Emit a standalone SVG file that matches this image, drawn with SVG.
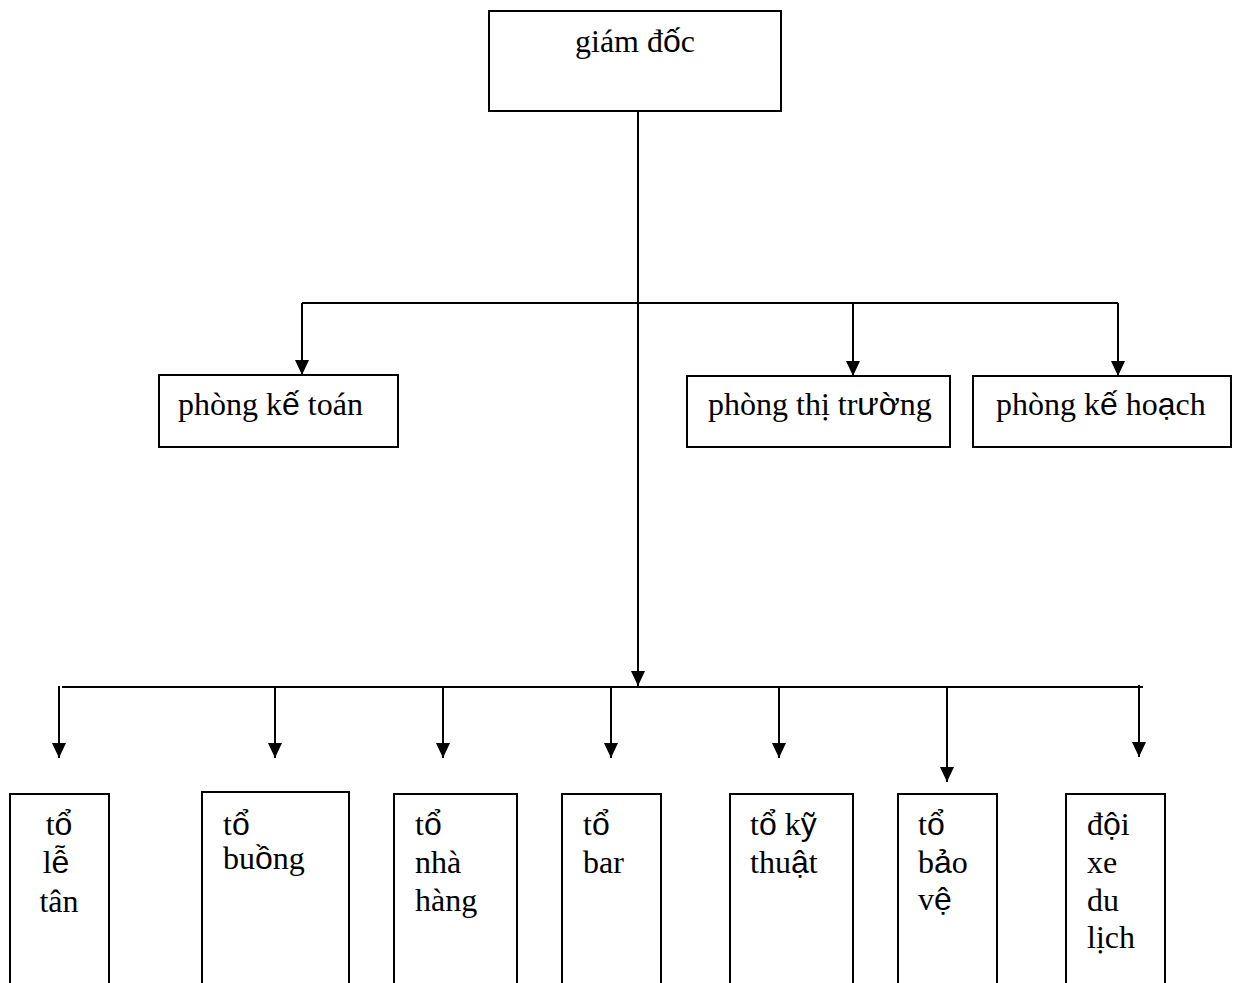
<svg xmlns="http://www.w3.org/2000/svg" width="1233" height="983" viewBox="0 0 1233 983">
<style>
.box{fill:#fff;stroke:#000;stroke-width:2}
.t{font-family:"Liberation Serif","Times New Roman",serif;font-size:32px;fill:#000}
.s{font-family:"Liberation Sans",Arial,sans-serif}
.ln{stroke:#000;stroke-width:2;fill:none}
</style>
<defs>
<marker id="ah" markerUnits="userSpaceOnUse" markerWidth="16" markerHeight="16" viewBox="0 0 16 16" refX="8" refY="15" orient="auto-start-reverse">
<path d="M1,0 L15,0 L8,15 Z" fill="#000" transform="rotate(-90 8 8)"/>
</marker>
<marker id="a" markerUnits="userSpaceOnUse" markerWidth="16" markerHeight="16" viewBox="0 0 16 16" refX="8" refY="15" orient="0">
<path d="M1,0 L15,0 L8,15 Z" fill="#000"/>
</marker>
</defs>
<rect width="1233" height="983" fill="#fff"/>
<g id="connectors">
<line class="ln" x1="638" y1="111" x2="638" y2="686" marker-end="url(#a)"/>
<line class="ln" x1="302" y1="303" x2="1118" y2="303"/>
<line class="ln" x1="302" y1="303" x2="302" y2="375" marker-end="url(#a)"/>
<line class="ln" x1="853" y1="303" x2="853" y2="376" marker-end="url(#a)"/>
<line class="ln" x1="1118" y1="303" x2="1118" y2="376" marker-end="url(#a)"/>
<line class="ln" x1="62" y1="687" x2="1143" y2="687"/>
<line class="ln" x1="59" y1="686" x2="59" y2="758" marker-end="url(#a)"/>
<line class="ln" x1="275" y1="687" x2="275" y2="758" marker-end="url(#a)"/>
<line class="ln" x1="443" y1="687" x2="443" y2="758" marker-end="url(#a)"/>
<line class="ln" x1="611" y1="687" x2="611" y2="758" marker-end="url(#a)"/>
<line class="ln" x1="779" y1="687" x2="779" y2="758" marker-end="url(#a)"/>
<line class="ln" x1="947" y1="687" x2="947" y2="782" marker-end="url(#a)"/>
<line class="ln" x1="1139" y1="685" x2="1139" y2="757" marker-end="url(#a)"/>
</g>
<g id="giam-doc">
<rect class="box" x="489" y="11" width="292" height="100"/>
<text class="t" x="635" y="52" text-anchor="middle">giám đ<tspan class="s">ố</tspan>c</text>
</g>
<g id="phong-ke-toan">
<rect class="box" x="159" y="375" width="239" height="72"/>
<text class="t" x="178" y="415">phòng k<tspan class="s">ế</tspan> toán</text>
</g>
<g id="phong-thi-truong">
<rect class="box" x="687" y="376" width="263" height="71"/>
<text class="t" x="708" y="415">phòng thị tr<tspan class="s">ườ</tspan>ng</text>
</g>
<g id="phong-ke-hoach">
<rect class="box" x="973" y="376" width="258" height="71"/>
<text class="t" x="996" y="415">phòng k<tspan class="s">ế</tspan> ho<tspan class="s">ạ</tspan>ch</text>
</g>
<g id="to-le-tan">
<rect class="box" x="10" y="794" width="99" height="200"/>
<text class="t" text-anchor="middle"><tspan x="59" y="835">t<tspan class="s">ổ</tspan></tspan><tspan x="56" y="873">l<tspan class="s">ễ</tspan></tspan><tspan x="59" y="912">tân</tspan></text>
</g>
<g id="to-buong">
<rect class="box" x="202" y="792" width="147" height="200"/>
<text class="t"><tspan x="223" y="835">t<tspan class="s">ổ</tspan></tspan><tspan x="223" y="869">bu<tspan class="s">ồ</tspan>ng</tspan></text>
</g>
<g id="to-nha-hang">
<rect class="box" x="394" y="794" width="123" height="200"/>
<text class="t"><tspan x="415" y="835">t<tspan class="s">ổ</tspan></tspan><tspan x="415" y="873">nhà</tspan><tspan x="415" y="911">hàng</tspan></text>
</g>
<g id="to-bar">
<rect class="box" x="562" y="794" width="99" height="200"/>
<text class="t"><tspan x="583" y="835">t<tspan class="s">ổ</tspan></tspan><tspan x="583" y="873">bar</tspan></text>
</g>
<g id="to-ky-thuat">
<rect class="box" x="730" y="794" width="123" height="200"/>
<text class="t"><tspan x="750" y="835">t<tspan class="s">ổ</tspan> k<tspan class="s">ỹ</tspan></tspan><tspan x="750" y="873">thu<tspan class="s">ậ</tspan>t</tspan></text>
</g>
<g id="to-bao-ve">
<rect class="box" x="898" y="794" width="99" height="200"/>
<text class="t"><tspan x="918" y="835">t<tspan class="s">ổ</tspan></tspan><tspan x="918" y="873">b<tspan class="s">ả</tspan>o</tspan><tspan x="918" y="910">v<tspan class="s">ệ</tspan></tspan></text>
</g>
<g id="doi-xe-du-lich">
<rect class="box" x="1066" y="794" width="99" height="200"/>
<text class="t"><tspan x="1087" y="835">đ<tspan class="s">ộ</tspan>i</tspan><tspan x="1087" y="873">xe</tspan><tspan x="1087" y="911">du</tspan><tspan x="1087" y="948">lịch</tspan></text>
</g>
</svg>
